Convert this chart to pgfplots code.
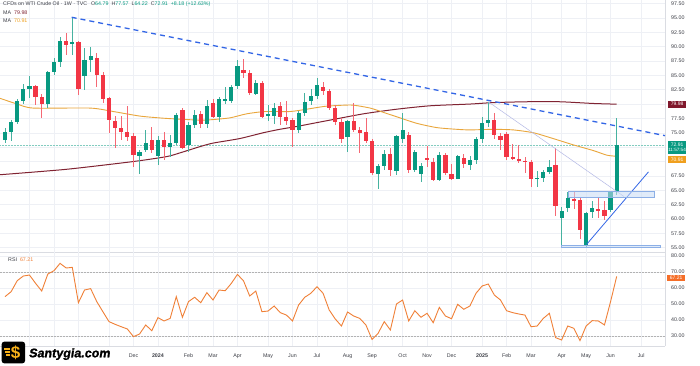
\documentclass[border=0pt]{standalone}
\usepackage{pgfplots}
\pgfplotsset{compat=1.18}
\usepackage{pgfplotstable}
\usepackage{fontspec}
\setmainfont{Liberation Sans}
\newfontfamily\logofont[FakeSlant=0.15,FakeBold=1.2]{Liberation Sans}
\definecolor{cg}{RGB}{8,153,129}
\definecolor{cr}{RGB}{242,54,69}
\definecolor{maor}{RGB}{233,166,60}
\definecolor{mamr}{RGB}{128,35,50}
\definecolor{rsic}{RGB}{240,128,55}
\definecolor{tl}{RGB}{51,102,230}
\definecolor{grd}{RGB}{238,240,245}
\definecolor{txt}{RGB}{60,62,70}
\definecolor{sepc}{RGB}{218,220,226}
\definecolor{boxm}{RGB}{128,24,44}
\definecolor{boxo}{RGB}{240,160,30}
\definecolor{boxr}{RGB}{245,110,40}
\definecolor{logoy}{RGB}{249,178,26}
\definecolor{rectf}{RGB}{200,220,245}
\definecolor{rectd}{RGB}{140,175,230}
\definecolor{thinl}{RGB}{180,185,230}

\pgfplotstableread{
w o h l c
0 73.8 75.9 73.2 75.2
1 75.2 77.3 73.5 76.9
2 76.9 80.8 76.6 80.6
3 80.6 83.5 80.0 82.6
4 82.7 84.9 81.0 83.1
7 80.0 85.8 79.3 85.6
8 85.6 88.0 85.1 87.3
9 87.3 91.6 86.5 91.0
11 90.4 95.1 88.6 90.8
13 84.9 89.7 82.4 87.7
14 87.6 89.9 85.6 88.3
22 71.0 72.0 67.9 71.7
23 72.0 75.4 71.6 73.3
25 71.0 74.4 69.4 73.75
27 72.5 74.6 70.8 73.3
28 73.2 78.5 72.9 78.1
30 72.9 76.9 71.7 76.4
31 76.4 79.0 75.9 78.1
33 76.5 80.7 75.9 79.7
35 77.8 81.3 76.9 80.8
36 80.5 83.0 80.0 80.8
37 80.6 83.4 80.2 83.0
38 83.1 87.7 82.6 86.6
41 81.8 84.2 81.5 83.6
43 77.9 79.8 77.0 78.2
44 77.9 80.1 76.6 79.4
48 75.4 78.8 75.0 78.5
49 78.4 81.9 78.0 80.4
50 80.6 82.7 79.9 81.4
51 81.4 84.5 80.9 83.3
56 74.3 77.2 71.7 77.0
61 67.9 69.6 65.3 69.2
62 69.2 72.0 68.6 71.3
64 68.4 74.6 67.6 74.4
65 73.9 78.4 73.2 75.5
67 68.6 72.0 68.1 71.6
68 67.9 69.8 66.5 69.2
71 66.8 71.6 66.6 71.1
74 67.0 71.2 66.9 71.0
76 69.4 71.0 68.6 70.3
77 70.3 74.2 69.5 73.9
78 74.0 77.8 73.3 76.65
79 76.7 80.4 76.0 77.3
87 67.0 68.3 65.6 67.2
88 67.1 68.5 66.5 68.1
89 68.1 70.3 67.8 69.0
91 60.2 62.0 55.2 61.3
92 61.9 64.7 61.2 63.6
95 55.5 61.3 55.2 61.0
96 61.27 63.2 60.2 61.85
99 61.55 64.9 61.2 64.75
100 64.79 77.57 64.22 72.91
}\upc

\pgfplotstableread{
w o h l c
5 83.1 83.4 79.9 81.3
6 81.3 81.8 77.6 80.0
10 91.0 92.4 88.5 90.2
12 90.8 91.0 81.5 82.6
15 88.0 88.9 83.0 85.1
16 85.1 85.5 80.1 80.8
17 81.0 81.2 75.0 77.2
18 77.1 78.0 72.4 75.9
19 75.8 77.9 73.8 75.1
20 75.2 79.6 73.6 74.2
21 74.4 74.9 69.1 71.1
24 73.75 76.0 71.4 72.0
26 73.75 75.2 70.3 72.6
29 79.0 79.3 72.1 72.3
32 78.3 78.8 75.9 76.5
34 80.1 80.8 77.5 77.8
39 85.9 87.9 84.6 85.4
40 85.4 86.0 81.6 82.0
42 83.6 84.0 77.6 77.8
45 79.6 80.4 76.4 77.7
46 77.7 80.5 76.4 77.0
47 77.2 77.5 72.6 75.4
52 82.9 83.9 81.5 82.2
53 82.3 82.7 78.9 79.3
54 79.3 79.8 76.3 76.8
55 76.8 77.6 73.3 73.9
57 77.0 80.1 75.2 75.5
58 75.5 76.0 71.4 74.9
59 75.2 77.5 73.3 73.5
60 73.5 74.0 67.6 68.0
63 71.3 72.4 67.5 68.5
66 74.7 75.2 68.0 68.6
69 70.6 72.7 69.1 70.3
70 70.0 70.6 66.6 66.8
72 71.1 71.4 67.6 68.05
73 67.9 69.5 66.8 67.0
75 70.55 71.3 68.8 69.5
80 77.2 78.5 74.0 74.6
81 74.45 75.0 72.0 73.75
82 74.8 75.2 70.3 70.8
83 70.85 73.0 70.2 70.4
84 70.4 72.9 69.7 70.15
85 70.15 70.8 68.0 69.9
86 70.0 70.3 65.6 66.9
90 69.4 72.3 60.6 62.2
93 63.4 64.7 61.8 63.1
94 63.3 63.6 56.6 58.1
97 61.7 63.9 60.1 61.5
98 61.55 63.2 59.9 60.6
}\dnc

\pgfplotstableread{
w v
-0.82 81.0
2 80.0
4.6 79.3
13.9 79.3
17.7 78.7
22.1 77.9
26.4 77.5
31.9 77.2
34 77.3
36.8 77.6
39.5 78.3
42.5 78.7
46.6 78.7
49.3 79.1
52.3 79.6
55.3 79.8
57 79.8
59.7 79.3
62 78.5
64 77.8
67.3 76.65
70.6 75.9
73.9 75.6
76 75.5
79.8 75.6
83.1 75.5
86.4 75.0
89.6 74.0
92.9 72.9
96.2 71.9
98.4 71.1
100 70.91
}\maone

\pgfplotstableread{
w v
-0.82 67.7
10.1 68.65
21 70.0
26.4 70.85
28.6 71.5
31.9 72.6
34 73.2
38.4 74.0
42.2 75.0
44.9 75.6
47.7 76.1
50.4 76.65
53.1 77.2
58.6 78.3
64 79.1
69.5 79.7
76 80.0
79.8 80.25
85.3 80.4
90.7 80.4
96.2 80.1
100 79.98
}\matwo

\pgfplotstableread{
w r
0 54.6
1 57.7
2 64.6
3 67.5
4 68.1
5 62.9
6 58.1
7 68.75
8 70.8
9 75.4
10 72.5
11 72.9
12 50.8
13 58.75
14 59.6
15 51.5
16 45.2
17 39.0
18 37.3
19 35.8
20 34.4
21 29.6
22 31.25
23 36.9
24 33.3
25 41.5
26 39.4
27 41.0
28 54.6
29 41.7
30 51.5
31 54.2
32 50.8
33 57.1
34 52.5
35 58.75
36 58.3
37 62.9
38 68.5
39 64.4
40 55.0
41 58.1
42 45.2
43 45.6
44 48.75
45 44.6
46 43.1
47 39.4
48 49.4
49 54.2
50 56.7
51 60.8
52 56.7
53 46.25
54 40.6
55 36.25
56 45.0
57 42.5
58 41.0
59 36.9
60 27.9
61 31.7
62 39.0
63 33.75
64 50.0
65 52.5
66 39.4
67 45.8
68 41.7
69 44.2
70 38.3
71 47.9
72 42.5
73 40.8
74 49.8
75 46.7
76 48.75
77 56.7
78 61.25
79 62.5
80 55.6
81 52.5
82 45.8
83 44.6
84 43.75
85 43.1
86 35.8
87 36.25
88 41.0
89 44.2
90 29.0
91 27.5
92 36.25
93 34.8
94 27.1
95 36.25
96 39.6
97 39.4
98 36.9
99 51.5
100 67.21
}\rsitab

\pgfplotsset{
  tv/.style={
    scale only axis, width=665pt, xmin=-0.82, xmax=107.9,
    axis x line*=bottom, axis y line*=right,
    axis line style={sepc, -, line width=0.6pt},
    major tick length=0pt,
    xmajorgrids, ymajorgrids,
    major grid style={grd, line width=0.5pt},
    tick label style={font=\fontsize{5.3}{6}\selectfont, text=txt},
    /pgf/number format/assume math mode=true,
    xtick={4,8,12,17,21,25,30,34,38,43,47,51,56,60,65,69,73,78,82,86,91,95,99,104},
    yticklabel style={anchor=west, xshift=6pt, inner sep=0pt,
      /pgf/number format/fixed, /pgf/number format/fixed zerofill,
      /pgf/number format/precision=2},
  },
  wick/.style={only marks, mark=*, mark options={opacity=0}, forget plot,
    error bars/.cd, y dir=both, y explicit, error mark=none,
    error bar style={line width=0.7pt, color=#1}},
  body/.style={only marks, mark=*, mark options={opacity=0}, forget plot,
    error bars/.cd, y dir=both, y explicit, error mark=none,
    error bar style={line width=4.2pt, color=#1}},
}

\begin{document}
\begin{tikzpicture}
\fill[white] (0,0) rectangle (700pt,365pt);
\useasboundingbox (0,0) rectangle (700pt,365pt);

% ---------- price pane ----------
\begin{axis}[tv, at={(0pt,113pt)}, anchor=south west, height=252pt,
  ymin=54.25, ymax=98.11,
  ytick={55,57.5,60,62.5,65,67.5,75,77.5,82.5,85,87.5,90,92.5,95,97.5},
  extra y ticks={70,72.5,80}, extra y tick labels={},
  extra y tick style={grid=major},
  xticklabels={}]
\addplot[densely dotted, color=cg!50, line width=0.5pt, forget plot] coordinates {(-0.82,72.91) (107.9,72.91)};
\addplot[color=mamr, line width=1pt, smooth, tension=0.4] table[x=w,y=v] {\matwo};
\addplot[color=maor, line width=0.9pt, smooth, tension=0.4] table[x=w,y=v] {\maone};
\addplot[wick=cg!75] table[x=w, y expr={(\thisrow{h}+\thisrow{l})/2}, y error expr={(\thisrow{h}-\thisrow{l})/2}] {\upc};
\addplot[wick=cr!75] table[x=w, y expr={(\thisrow{h}+\thisrow{l})/2}, y error expr={(\thisrow{h}-\thisrow{l})/2}] {\dnc};
\addplot[body=cg] table[x=w, y expr={(\thisrow{o}+\thisrow{c})/2}, y error expr={max(abs(\thisrow{c}-\thisrow{o})/2,0.09)}] {\upc};
\addplot[body=cr] table[x=w, y expr={(\thisrow{o}+\thisrow{c})/2}, y error expr={max(abs(\thisrow{c}-\thisrow{o})/2,0.09)}] {\dnc};
% drawings
\addplot[color=tl, line width=1.3pt, dash pattern=on 5pt off 4pt] coordinates {(10.9,95.1) (107.9,74.5)};
\addplot[color=thinl, line width=0.5pt] coordinates {(79,80.4) (101.2,63.9)};
\addplot[color=tl, line width=0.8pt] coordinates {(95.1,55.6) (105.2,68.2)};
\addplot[fill=rectf, fill opacity=0.55, draw=rectd, line width=0.5pt] coordinates {(92.1,63.75) (106.1,63.75) (106.1,64.85) (92.1,64.85)} -- cycle;
\addplot[fill=rectf, fill opacity=0.55, draw=rectd, line width=0.5pt] coordinates {(91.0,55.0) (107.1,55.0) (107.1,55.45) (91.0,55.45)} -- cycle;
\coordinate (b1) at (axis cs:107.9,79.98);
\coordinate (b2) at (axis cs:107.9,73.62);
\coordinate (b3) at (axis cs:107.9,70.96);
\end{axis}

% ---------- RSI pane ----------
\begin{axis}[tv, at={(0pt,19pt)}, anchor=south west, height=94pt,
  ymin=23.75, ymax=82.5, ytick={30,40,...,80},
  xticklabels={{},{},{},{},Dec,\textbf{2024},Feb,Mar,Apr,May,Jun,Jul,Aug,Sep,Oct,Nov,Dec,\textbf{2025},Feb,Mar,Apr,May,Jun,Jul},
  xticklabel style={anchor=center, yshift=-10pt, inner sep=0pt}]
\addplot[color=gray!60, line width=0.6pt, dash pattern=on 1.5pt off 1.5pt, forget plot] coordinates {(-0.82,70) (107.9,70)};
\addplot[color=gray!60, line width=0.6pt, dash pattern=on 1.5pt off 1.5pt, forget plot] coordinates {(-0.82,30) (107.9,30)};
\addplot[color=rsic, line width=0.9pt] table[x=w,y=r] {\rsitab};
\coordinate (b4) at (axis cs:107.9,66.3);
\end{axis}

% ---------- price labels ----------
\begin{scope}[every node/.style={inner sep=0pt, text=white, font=\fontsize{5}{6}\selectfont, minimum width=18.3pt}]
\node[fill=boxm, anchor=west, xshift=2.7pt, minimum height=7pt] at (b1) {79.98};
\node[fill=cg, anchor=north west, xshift=2.7pt, minimum height=13.3pt, align=center] at (b2) {72.91\\[-0.6pt]{\fontsize{4.6}{5}\selectfont 11:57:54}};
\node[fill=boxo, anchor=north west, xshift=2.7pt, minimum height=6.5pt] at (b3) {70.91};
\node[fill=boxr, anchor=west, xshift=1.8pt, minimum height=6.5pt] at (b4) {67.21};
\end{scope}

% ---------- legends ----------
\begin{scope}[every node/.style={inner sep=0pt, anchor=west, font=\fontsize{5.3}{6}\selectfont, text=txt}]
\node at (3pt,361pt) {CFDs on WTI Crude Oil · 1W · TVC\hspace{4pt}O\textcolor{cg}{64.79}\hspace{3pt}H\textcolor{cg}{77.57}\hspace{3pt}L\textcolor{cg}{64.22}\hspace{3pt}C\textcolor{cg}{72.91}\hspace{3pt}\textcolor{cg}{+8.18 (+12.63\%)}};
\node at (3pt,352pt) {MA\hspace{3pt}\textcolor{mamr}{79.98}};
\node at (3pt,344pt) {MA\hspace{3pt}\textcolor{boxo}{70.91}};
\node at (8pt,105pt) {RSI\hspace{3pt}\textcolor{rsic}{67.21}};
\end{scope}

% ---------- logo ----------
\fill[white] (0,0) rectangle (118pt,18.5pt);
\fill[black, rounded corners=2.5pt] (1.7pt,1.7pt) rectangle (25pt,23.3pt);
\draw[logoy, line width=1.1pt] (4pt,16pt) -- (9.5pt,16pt);
\draw[logoy, line width=1.1pt] (5pt,13pt) -- (9.5pt,13pt);
\draw[logoy, line width=1.1pt] (6pt,10pt) -- (9.5pt,10pt);
\node[text=logoy, inner sep=0pt, font=\fontsize{17}{17}\selectfont\bfseries] at (15.5pt,12.3pt) {\$};
\node[anchor=base west, inner sep=0pt, font=\logofont\bfseries\fontsize{12.5}{13}\selectfont] at (28.5pt,7.7pt) {Santygia.com};
\end{tikzpicture}
\end{document}
